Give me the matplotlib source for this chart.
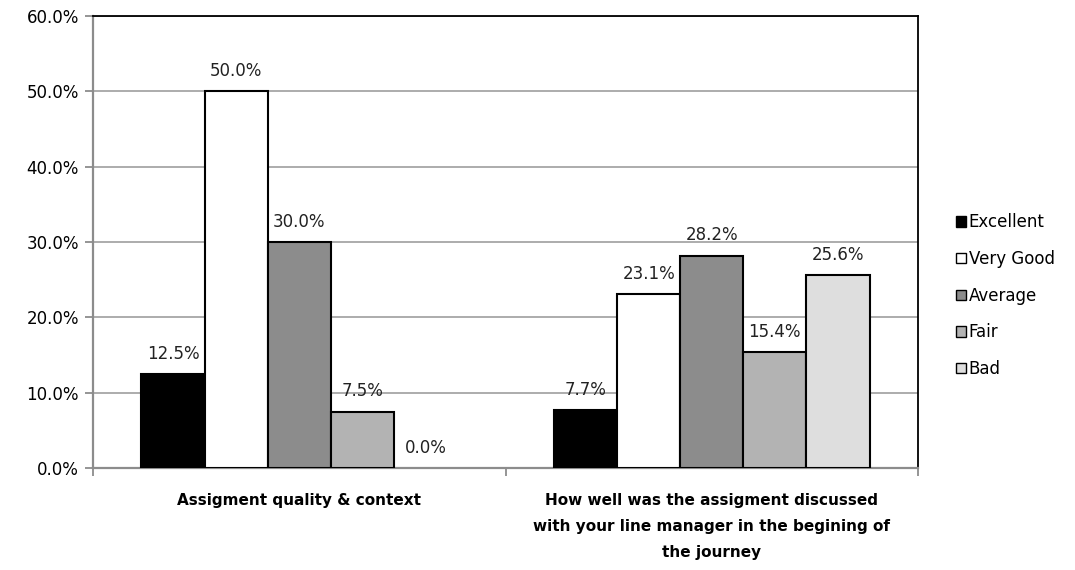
import matplotlib
matplotlib.use("Agg")
import matplotlib.pyplot as plt
import matplotlib.patches as mpatches
import numpy as np

categories = ["Assigment quality & context",
              "How well was the assigment discussed\nwith your line manager in the begining of\nthe journey"]
series = ["Excellent", "Very Good", "Average", "Fair", "Bad"]
values = {
    "Excellent": [12.5, 7.7],
    "Very Good": [50.0, 23.1],
    "Average":   [30.0, 28.2],
    "Fair":      [7.5, 15.4],
    "Bad":       [0.0, 25.6],
}
colors = ["#000000", "#ffffff", "#8c8c8c", "#b3b3b3", "#dedede"]

matplotlib.rc("font", **{"family": "DejaVu Sans", "size": 11})

fig = plt.figure(figsize=(10.75, 5.7), dpi=100)
ax = fig.add_axes([93/1075, 1 - 468/570, 825/1075, 452/570])

x = np.arange(len(categories))
width = 0.153
for i, (name, col) in enumerate(zip(series, colors)):
    pos = x + (i - 2) * width
    vals = values[name]
    lws = [1.5 if v > 0 else 0 for v in vals]
    ax.bar(pos, vals, width=width, color=col, edgecolor="black", linewidth=lws,
           zorder=3, label=name)
    for p, v in zip(pos, vals):
        ax.text(p, v + 1.5, f"{v:.1f}%", ha="center", va="bottom",
                fontsize=12, color="#222222", zorder=4)

ax.set_xlim(-0.5, 1.5)
ax.set_ylim(0, 60)
ax.set_yticks(np.arange(0, 61, 10))
ax.set_yticklabels([f"{t:.1f}%" for t in range(0, 61, 10)], fontsize=12)
ax.yaxis.grid(True, color="#a6a6a6", linewidth=1.3, zorder=0)
ax.tick_params(axis="y", length=6, width=1.3, color="#8c8c8c", pad=4)

ax.set_xticks([-0.5, 0.5, 1.5])
ax.set_xticklabels([])
ax.set_xticks(x, minor=True)
ax.set_xticklabels(categories, minor=True, fontweight="bold", fontsize=11,
                   linespacing=1.9, va="top")
ax.tick_params(axis="x", which="major", length=6, width=1.3, color="#8c8c8c")
ax.tick_params(axis="x", which="minor", length=0, pad=18)

ax.spines["left"].set_color("#8c8c8c")
ax.spines["bottom"].set_color("#8c8c8c")
ax.spines["left"].set_linewidth(1.6)
ax.spines["bottom"].set_linewidth(1.6)
ax.spines["top"].set_linewidth(1.3)
ax.spines["right"].set_linewidth(1.3)

handles = [mpatches.Patch(facecolor=c, edgecolor="black", linewidth=1, label=s)
           for s, c in zip(series, colors)]
fig.legend(handles=handles, loc="upper left", bbox_to_anchor=(948/1075, 1 - 205/570),
           frameon=False, fontsize=12, handlelength=0.6, handleheight=0.6,
           handletextpad=0.15, labelspacing=1.12, borderpad=0)

fig.savefig("out.png", dpi=100)
